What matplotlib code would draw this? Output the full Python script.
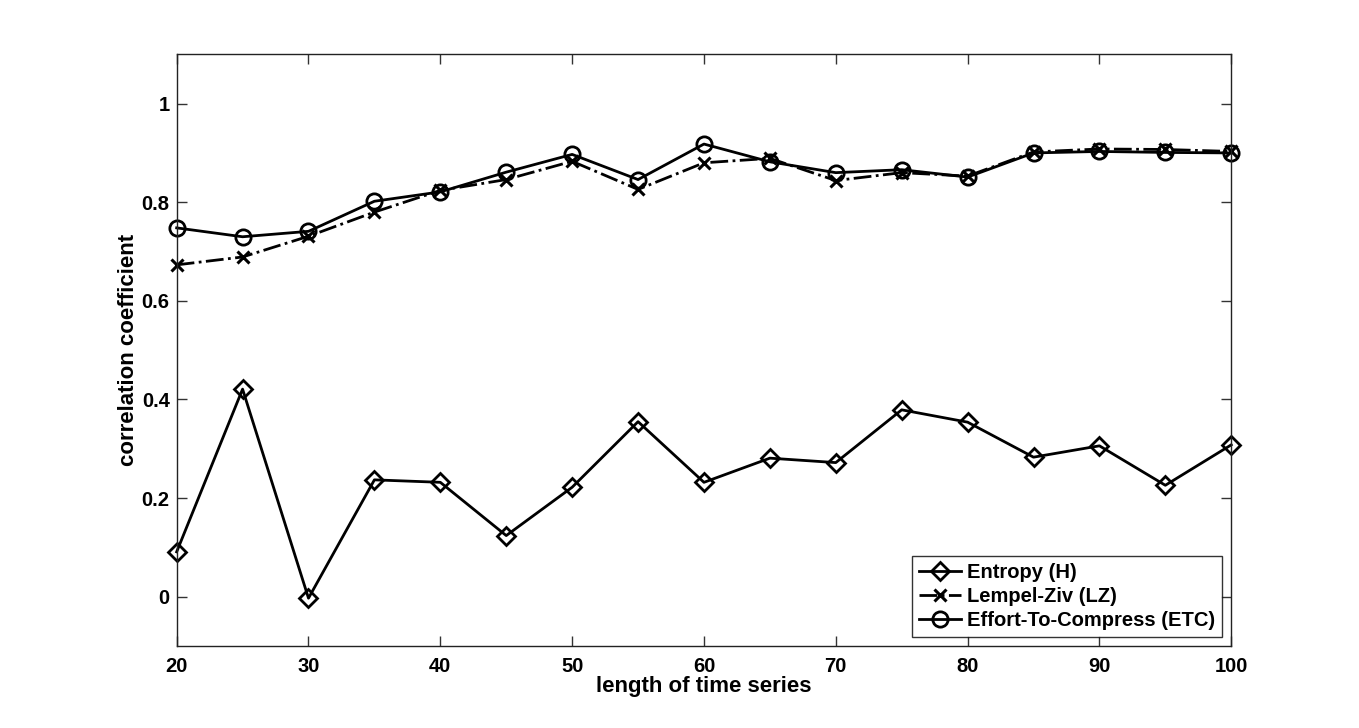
import matplotlib
matplotlib.use('Agg')
import matplotlib.pyplot as plt

# data
length = [20, 25, 30, 35, 40, 45, 50, 55, 60, 65, 70, 75, 80, 85, 90, 95, 100]
entropy = [0.091, 0.421, -0.003, 0.237, 0.232, 0.124, 0.222, 0.355, 0.232,
           0.281, 0.272, 0.379, 0.354, 0.283, 0.306, 0.226, 0.308]
lz = [0.673, 0.689, 0.731, 0.780, 0.824, 0.846, 0.883, 0.826, 0.880,
      0.889, 0.844, 0.860, 0.853, 0.902, 0.908, 0.907, 0.903]
etc = [0.748, 0.730, 0.741, 0.802, 0.821, 0.861, 0.897, 0.846, 0.918,
       0.882, 0.860, 0.866, 0.851, 0.900, 0.903, 0.901, 0.900]

xticks = [20, 30, 40, 50, 60, 70, 80, 90, 100]
yticks = [0, 0.2, 0.4, 0.6, 0.8, 1]
ytick_labels = ['0', '0.2', '0.4', '0.6', '0.8', '1']

plt.rcParams['font.family'] = ['Liberation Sans', 'DejaVu Sans']
plt.rcParams['font.weight'] = 'bold'

fig = plt.figure(figsize=(13.59, 7.28), dpi=100)
ax = fig.add_axes([0.13, 0.1126, 0.776, 0.8128])

ax.plot(length, entropy, 'k-', marker='D', markersize=9, markerfacecolor='none',
        markeredgewidth=2, linewidth=2, label='Entropy (H)', clip_on=False)
ax.plot(length, lz, 'k-.', marker='x', markersize=8, markeredgewidth=2.2,
        linewidth=2, label='Lempel-Ziv (LZ)', clip_on=False)
ax.plot(length, etc, 'k-', marker='o', markersize=11, markerfacecolor='none',
        markeredgewidth=2, linewidth=2, label='Effort-To-Compress (ETC)', clip_on=False)

ax.set_xlim(20, 100)
ax.set_ylim(-0.1, 1.1)
ax.set_xticks(xticks)
ax.set_yticks(yticks)
ax.set_yticklabels(ytick_labels)
ax.tick_params(direction='in', length=7, width=1, top=True, right=True,
               labelsize=14.5, color='#333333')
ax.tick_params(axis='y', pad=5)
ax.tick_params(axis='x', pad=8)
for s in ax.spines.values():
    s.set_linewidth(1)
    s.set_color('#222222')

ax.set_xlabel('length of time series', fontsize=16, fontweight='bold', labelpad=0)
ax.set_ylabel('correlation coefficient', fontsize=16, fontweight='bold', labelpad=2)

leg = ax.legend(loc='lower right', fontsize=14.5, frameon=True, fancybox=False,
                edgecolor='black', borderpad=0.35, labelspacing=0.25,
                handlelength=2.1, handletextpad=0.3, borderaxespad=0.45)
leg.get_frame().set_linewidth(1)

fig.savefig('out.png', dpi=100)
